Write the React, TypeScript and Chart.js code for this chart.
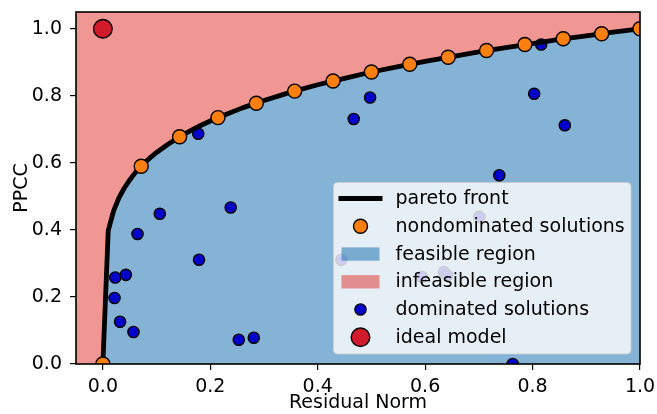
import React, { useEffect, useRef } from "react";
import { Chart, registerables } from "chart.js";

Chart.register(...registerables);

// ---- data ----
const frontX = [0, 0.01, 0.02, 0.03, 0.04, 0.05, 0.06, 0.07, 0.08, 0.09, 0.1, 0.12, 0.14, 0.16, 0.18, 0.2, 0.23, 0.26, 0.3, 0.35, 0.4, 0.45, 0.5, 0.55, 0.6, 0.65, 0.7, 0.75, 0.8, 0.85, 0.9, 0.95, 1.0];
const frontY = [0, 0.398, 0.457, 0.496, 0.525, 0.549, 0.57, 0.588, 0.603, 0.618, 0.631, 0.654, 0.675, 0.693, 0.71, 0.725, 0.745, 0.764, 0.786, 0.811, 0.833, 0.852, 0.871, 0.887, 0.903, 0.917, 0.931, 0.944, 0.956, 0.968, 0.979, 0.99, 1.0];

const nondomX = [0, 0.0714, 0.1429, 0.2143, 0.2857, 0.3571, 0.4286, 0.5, 0.5714, 0.6429, 0.7143, 0.7857, 0.8571, 0.9286, 1.0];
const nondomY = [0, 0.59, 0.678, 0.735, 0.778, 0.814, 0.844, 0.871, 0.894, 0.915, 0.935, 0.953, 0.97, 0.985, 1.0];

const domX = [0.023, 0.0428, 0.0217, 0.032, 0.057, 0.0645, 0.106, 0.179, 0.1776, 0.238, 0.253, 0.281, 0.444, 0.467, 0.4975, 0.594, 0.635, 0.641, 0.701, 0.738, 0.763, 0.803, 0.816, 0.86];
const domY = [0.258, 0.266, 0.197, 0.126, 0.0955, 0.388, 0.448, 0.311, 0.687, 0.467, 0.0725, 0.0785, 0.311, 0.731, 0.795, 0.26, 0.274, 0.264, 0.439, 0.563, 0.0, 0.806, 0.953, 0.712];

const idealX = [0];
const idealY = [1.0];

const xTicks = [0, 0.2, 0.4, 0.6, 0.8, 1.0];
const yTicks = [0, 0.2, 0.4, 0.6, 0.8, 1.0];

const xLabel = "Residual Norm";
const yLabel = "PPCC";

const legendOrder = ["pareto front", "nondominated solutions", "feasible region", "infeasible region", "dominated solutions", "ideal model"];

// ---- styles ----
const FONT = "'DejaVu Sans', sans-serif";
const FS = 19;
const PINK = "rgba(225,45,40,0.5)";
const BLUE = "rgba(12,104,172,0.5)";
const ORANGE = "#ff7f0e";
const DOMBLUE = "#0000cd";
const RED = "#d11a2a";

const zip = (xs: number[], ys: number[]) => xs.map((x, i) => ({ x, y: ys[i] }));

const framePlugin = {
  id: "frame",
  afterDatasetsDraw(chart: any) {
    const { ctx, chartArea } = chart;
    ctx.save();
    ctx.strokeStyle = "#000";
    ctx.lineWidth = 1.6;
    ctx.strokeRect(chartArea.left, chartArea.top, chartArea.right - chartArea.left, chartArea.bottom - chartArea.top);
    ctx.restore();
  },
};

const legendPlugin = {
  id: "mplLegend",
  afterDraw(chart: any) {
    const { ctx, chartArea } = chart;
    const w = 297.5;
    const h = 171.5;
    const x0 = chartArea.right - 9 - w;
    const y0 = chartArea.bottom - 10 - h;
    ctx.save();
    ctx.beginPath();
    if ((ctx as any).roundRect) (ctx as any).roundRect(x0, y0, w, h, 4);
    else ctx.rect(x0, y0, w, h);
    ctx.fillStyle = "rgba(255,255,255,0.8)";
    ctx.fill();
    ctx.strokeStyle = "rgba(204,204,204,0.8)";
    ctx.lineWidth = 1;
    ctx.stroke();

    const step = 27.75;
    const handleCx = x0 + 27;
    const textX = x0 + 62;
    ctx.font = `${FS}px ${FONT}`;
    ctx.textBaseline = "alphabetic";
    ctx.textAlign = "left";
    legendOrder.forEach((label, i) => {
      const ds = chart.data.datasets.find((d: any) => d.label === label);
      if (!ds) return;
      const cy = y0 + 16 + i * step;
      const kind = ds.legendKind;
      if (kind === "line") {
        ctx.beginPath();
        ctx.moveTo(handleCx - 22, cy);
        ctx.lineTo(handleCx + 22, cy);
        ctx.strokeStyle = ds.borderColor;
        ctx.lineWidth = ds.borderWidth;
        ctx.stroke();
      } else if (kind === "patch") {
        ctx.fillStyle = ds.backgroundColor;
        ctx.fillRect(handleCx - 19, cy - 6.6, 38, 13.3);
      } else {
        ctx.beginPath();
        ctx.arc(handleCx, cy, ds.pointRadius, 0, Math.PI * 2);
        ctx.fillStyle = ds.pointBackgroundColor;
        ctx.fill();
        ctx.strokeStyle = ds.pointBorderColor;
        ctx.lineWidth = ds.pointBorderWidth;
        ctx.stroke();
      }
      ctx.fillStyle = "#000";
      ctx.fillText(label, textX, cy + 5.6);
    });
    ctx.restore();
  },
};

export default function App() {
  const ref = useRef<HTMLCanvasElement | null>(null);

  useEffect(() => {
    if (!ref.current) return;
    const front = zip(frontX, frontY);
    const chart = new Chart(ref.current, {
      type: "line",
      data: {
        datasets: [
          {
            label: "nondominated solutions",
            type: "line",
            data: zip(nondomX, nondomY),
            showLine: false,
            pointRadius: 7,
            pointBackgroundColor: ORANGE,
            pointBorderColor: "#000",
            pointBorderWidth: 1.4,
            order: 0,
            clip: 0,
            legendKind: "marker",
          } as any,
          {
            label: "pareto front",
            type: "line",
            data: front,
            borderColor: "#000",
            borderWidth: 4.8,
            pointRadius: 0,
            fill: false,
            tension: 0,
            borderJoinStyle: "round",
            order: 1,
            clip: 0,
            legendKind: "line",
          } as any,
          {
            label: "ideal model",
            type: "scatter",
            data: zip(idealX, idealY),
            pointRadius: 9.3,
            pointBackgroundColor: RED,
            pointBorderColor: "#000",
            pointBorderWidth: 1.4,
            order: 2,
            clip: 0,
            legendKind: "marker",
          } as any,
          {
            label: "dominated solutions",
            type: "scatter",
            data: zip(domX, domY),
            pointRadius: 5.6,
            pointBackgroundColor: DOMBLUE,
            pointBorderColor: "#000",
            pointBorderWidth: 1.4,
            order: 3,
            clip: 0,
            legendKind: "marker",
          } as any,
          {
            label: "infeasible region",
            type: "line",
            data: [{ x: -0.05, y: 0 }, ...front],
            borderWidth: 0,
            borderColor: "rgba(0,0,0,0)",
            backgroundColor: PINK,
            pointRadius: 0,
            fill: "end",
            order: 4,
            clip: 0,
            legendKind: "patch",
          } as any,
          {
            label: "feasible region",
            type: "line",
            data: front,
            borderWidth: 0,
            borderColor: "rgba(0,0,0,0)",
            backgroundColor: BLUE,
            pointRadius: 0,
            fill: "origin",
            order: 5,
            clip: 0,
            legendKind: "patch",
          } as any,
        ],
      },
      options: {
        animation: false,
        responsive: false,
        devicePixelRatio: 1,
        events: [],
        layout: { padding: { left: 0, right: 17, top: 12, bottom: 0 } },
        plugins: {
          legend: { display: false },
          tooltip: { enabled: false },
        },
        scales: {
          x: {
            type: "linear",
            min: -0.05,
            max: 1.0,
            afterFit: (s: any) => {
              s.height = 50;
              s.paddingLeft = 0;
              s.paddingRight = 0;
            },
            afterBuildTicks: (s: any) => {
              s.ticks = xTicks.map((v) => ({ value: v }));
            },
            ticks: {
              padding: 6,
              color: "#000",
              font: { family: FONT, size: FS },
              callback: (v: any) => Number(v).toFixed(1),
              maxRotation: 0,
            },
            grid: { display: true, drawOnChartArea: false, drawTicks: true, tickLength: 6, color: "#000", lineWidth: 1.2 },
            border: { display: false },
            title: { display: true, text: xLabel, color: "#000", font: { family: FONT, size: FS }, padding: { top: 0, bottom: -0.5 } },
          },
          y: {
            type: "linear",
            min: 0,
            max: 1.05,
            afterFit: (s: any) => {
              s.width = 76;
              s.paddingTop = 0;
              s.paddingBottom = 0;
            },
            afterBuildTicks: (s: any) => {
              s.ticks = yTicks.map((v) => ({ value: v }));
            },
            ticks: {
              padding: 8,
              color: "#000",
              font: { family: FONT, size: FS },
              callback: (v: any) => Number(v).toFixed(1),
            },
            grid: { display: true, drawOnChartArea: false, drawTicks: true, tickLength: 6, color: "#000", lineWidth: 1.2 },
            border: { display: false },
            title: { display: true, text: yLabel, color: "#000", font: { family: FONT, size: FS }, padding: { top: 10.6, bottom: 0 } },
          },
        },
      },
      plugins: [framePlugin, legendPlugin],
    } as any);
    return () => chart.destroy();
  }, []);

  return (
    <div style={{ position: "absolute", left: 0, top: 0, width: 657, height: 414, background: "#fff" }}>
      <canvas ref={ref} width={657} height={414} style={{ display: "block" }} />
    </div>
  );
}
